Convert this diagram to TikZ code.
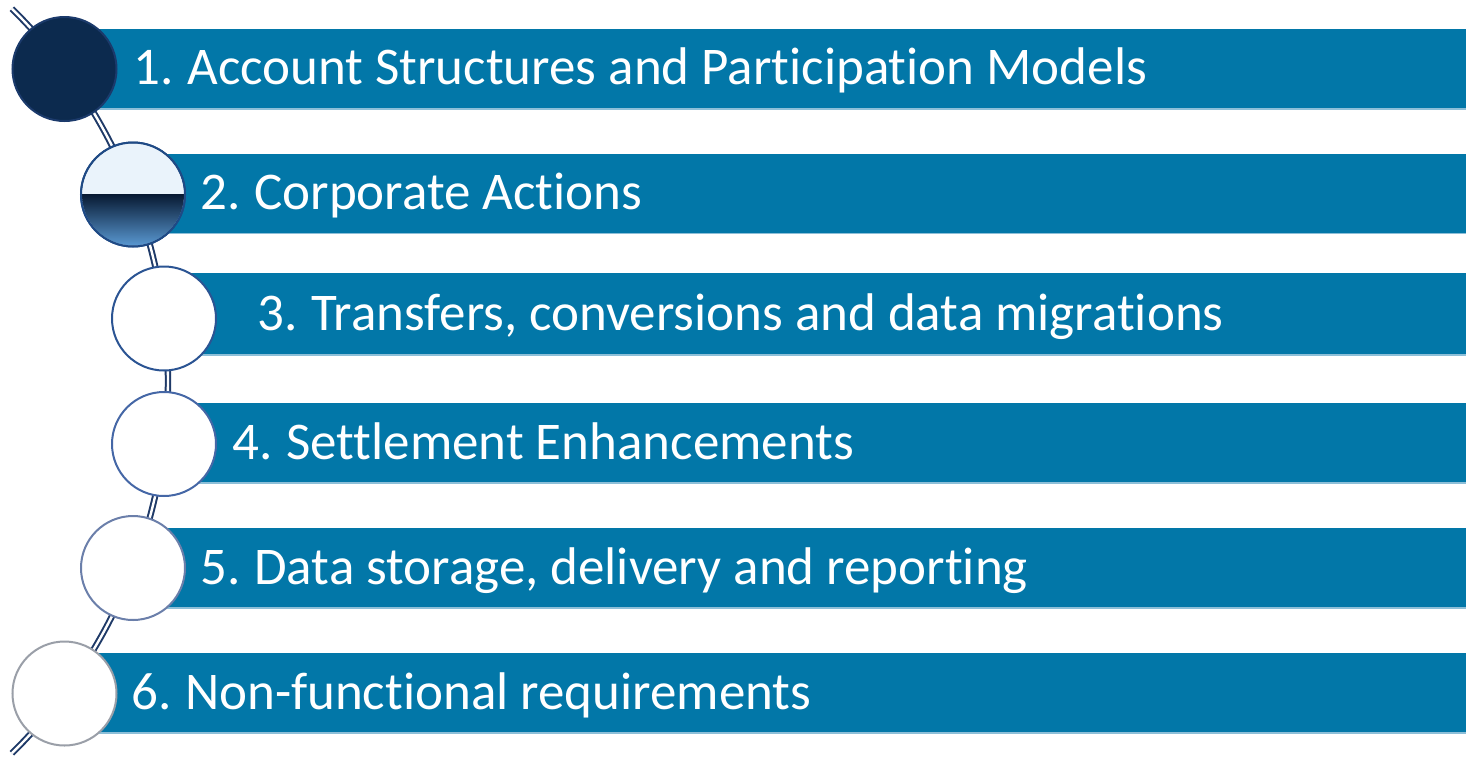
\documentclass[tikz,border=0pt]{standalone}
\usepackage{fontspec}
\setmainfont[Ligatures=NoCommon,Contextuals=NoAlternate]{Carlito}
\usetikzlibrary{calc}
\definecolor{barblue}{HTML}{0277A8}
\definecolor{baredge}{HTML}{8DBFD8}
\definecolor{navy}{HTML}{0C2A4E}
\definecolor{navyedge}{HTML}{1B3A6B}
\definecolor{linecol}{HTML}{1F3A68}
\definecolor{ctwo}{HTML}{1F4A85}
\definecolor{cthree}{HTML}{2B5493}
\definecolor{cfour}{HTML}{4567A6}
\definecolor{cfive}{HTML}{6B7FAA}
\definecolor{csix}{HTML}{9A9FA8}
\definecolor{paleblue}{HTML}{EAF3FB}
\definecolor{lightblue}{HTML}{5B9BD5}
\definecolor{deepnavy}{HTML}{081A33}
\begin{document}
\begin{tikzpicture}[x=1pt,y=-1pt,
  barbox/.style={rectangle, fill=barblue, anchor=west, minimum height=80pt, inner sep=0pt, outer sep=0pt},
  bartext/.style={anchor=base west, text=white, inner sep=0pt, font=\fontsize{53}{60}\selectfont},
  dot/.style={circle, minimum size=104pt, inner sep=0pt, line width=2pt, fill=white},
  rail/.style={draw=linecol, line width=2pt, double=white, double distance=2.4pt}]
\useasboundingbox (0,0) rectangle (1466,758);
% rail
\coordinate (railc) at (-354,381);
\coordinate (railtop) at ($(railc)+(-45.5:522)$);
\draw[rail] (railtop) arc[start angle=-45.5, end angle=45.5, radius=522];
% bars
\node[barbox, minimum width=1402pt] (b1) at (64,69) {};
\node[barbox, minimum width=1333pt] (b2) at (133,193.5) {};
\node[barbox, minimum width=1302pt, minimum height=82pt] (b3) at (164,314) {};
\node[barbox, minimum width=1302pt] (b4) at (164,443) {};
\node[barbox, minimum width=1333pt] (b5) at (133,568) {};
\node[barbox, minimum width=1402pt] (b6) at (64,693) {};
\foreach \b in {b1,b2,b3,b4,b5,b6}{
  \draw[baredge, line width=1.5pt] (\b.south west) -- (\b.south east);
}
% circles
\node[dot, fill=navy, draw=navyedge] (c1) at (64.5,69) {};
\node[dot, draw=ctwo] (c2) at (133,194.5) {};
\begin{scope}
  \clip (c2.center) circle[radius=51pt];
  \fill[paleblue] (81,142) rectangle (185,194.5);
  \shade[top color=deepnavy, bottom color=lightblue] (81,194.5) rectangle (185,247);
\end{scope}
\draw[ctwo, line width=2pt] (c2.center) circle[radius=52pt];
\node[dot, draw=cthree] (c3) at (164,318.5) {};
\node[dot, draw=cfour] (c4) at (164,444) {};
\node[dot, draw=cfive] (c5) at (133,568) {};
\node[dot, draw=csix] (c6) at (64.5,693.5) {};
% texts
\node[bartext] (t1) at (133,84) {1.\kern-2pt{} Account Structures and Participation Models};
\node[bartext] (t2) at (200,209) {2.\kern-2pt{} Corporate Actions};
\node[bartext] (t3) at (257,330) {3.\kern-2pt{} Transfers, conversions and data migrations};
\node[bartext] (t4) at (232,459) {4.\kern-2pt{} Settlement Enhancements};
\node[bartext] (t5) at (200,584) {5.\kern-2pt{} Data storage, delivery and reporting};
\node[bartext] (t6) at (131,709) {6.\kern-2pt{} Non-functional requirements};
\end{tikzpicture}
\end{document}
